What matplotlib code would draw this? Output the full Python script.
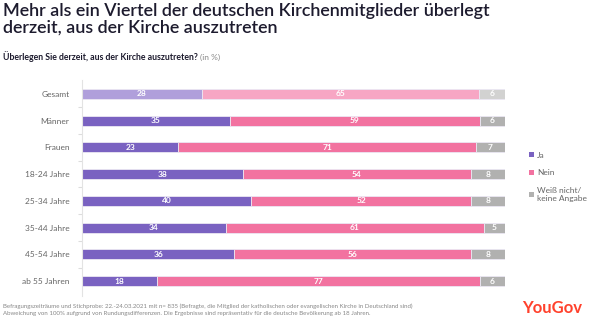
import numpy as np
import matplotlib.pyplot as plt
from matplotlib.patches import Patch

plt.rcParams['font.family'] = ['Lato', 'DejaVu Sans']

categories = ['Gesamt', 'Männer', 'Frauen', '18-24 Jahre', '25-34 Jahre',
              '35-44 Jahre', '45-54 Jahre', 'ab 55 Jahren']
ja = [28, 35, 23, 38, 40, 34, 36, 18]
nein = [65, 59, 71, 54, 52, 61, 56, 77]
weiss = [6, 6, 7, 8, 8, 5, 8, 6]
series_names = ['Ja', 'Nein', 'Weiß nicht/\nkeine Angabe']

colors = ['#7a62c1', '#f272a0', '#b1b1b0']
light_colors = ['#b09fdb', '#f7a6c4', '#d2d2d1']

fig = plt.figure(figsize=(5.9, 3.24), dpi=100)
ax = fig.add_axes([82 / 590, 1 - 296 / 324, 423 / 590, 216 / 324])

data = np.array([ja, nein, weiss], dtype=float)
totals = data.sum(axis=0)
shares = data / totals * 100  # 100% stacked

y = np.arange(len(categories))
left = np.zeros(len(categories))
for k in range(3):
    vals = shares[k]
    cols = [light_colors[k] if i == 0 else colors[k] for i in range(len(vals))]
    ax.barh(y, vals, left=left, height=0.37, color=cols,
            edgecolor='#ebe7f3', linewidth=0.6)
    for i, v in enumerate(vals):
        ax.text(left[i] + v / 2, y[i], str(int(data[k, i])), ha='center',
                va='center', color='white', fontsize=6, fontweight='bold')
    left += vals

ax.set_xlim(0, 100)
ax.set_ylim(7.56, -0.52)
ax.set_yticks(y)
ax.set_yticklabels(categories, fontsize=6, color='#666666')
ax.set_yticks(np.arange(len(categories) - 1) + 0.5, minor=True)
ax.tick_params(axis='y', which='major', length=0, pad=9)
ax.tick_params(axis='y', which='minor', length=3, color='#dddddd', width=0.8)
ax.set_xticks([])
for s in ['top', 'right', 'bottom']:
    ax.spines[s].set_visible(False)
ax.spines['left'].set_color('#e3e3e3')
ax.spines['left'].set_linewidth(0.8)

handles = [Patch(facecolor=c) for c in colors]
fig.legend(handles, series_names, loc='upper left',
           bbox_to_anchor=(521 / 590, 1 - 144 / 324), frameon=False,
           fontsize=6, labelcolor='#666666', handlelength=0.6,
           handleheight=0.6, handletextpad=0.4, labelspacing=1.3)

fig.text(3 / 590, 1 - 3 / 324,
         'Mehr als ein Viertel der deutschen Kirchenmitglieder überlegt\n'
         'derzeit, aus der Kirche auszutreten',
         ha='left', va='top', fontsize=12.9, fontweight='semibold',
         color='#1d1b2e', linespacing=1.05)
t = fig.text(3 / 590, 1 - 57 / 324,
             'Überlegen Sie derzeit, aus der Kirche auszutreten?',
             ha='left', va='center', fontsize=6.3, fontweight='bold',
             color='#1d1b2e')
fig.canvas.draw()
bb = t.get_window_extent()
fig.text(bb.x1 / fig.bbox.width + 2 / 590, 1 - 57 / 324, '(in %)',
         ha='left', va='center', fontsize=6, color='#888888')

fig.text(3 / 590, 1 - 310 / 324,
         'Befragungszeiträume und Stichprobe: 22.-24.03.2021 mit n= 835 '
         '(Befragte, die Mitglied der katholischen oder evangelischen Kirche in Deutschland sind)\n'
         'Abweichung von 100% aufgrund von Rundungsdifferenzen. Die Ergebnisse '
         'sind repräsentativ für die deutsche Bevölkerung ab 18 Jahren.',
         ha='left', va='center', fontsize=4.4, color='#888888', linespacing=1.5)
fig.text(552 / 590, 1 - 308 / 324, 'YouGov', ha='center', va='center',
         fontsize=12, fontweight='bold', color='#ff412c')

fig.savefig('out.png', dpi=100, facecolor='white')
